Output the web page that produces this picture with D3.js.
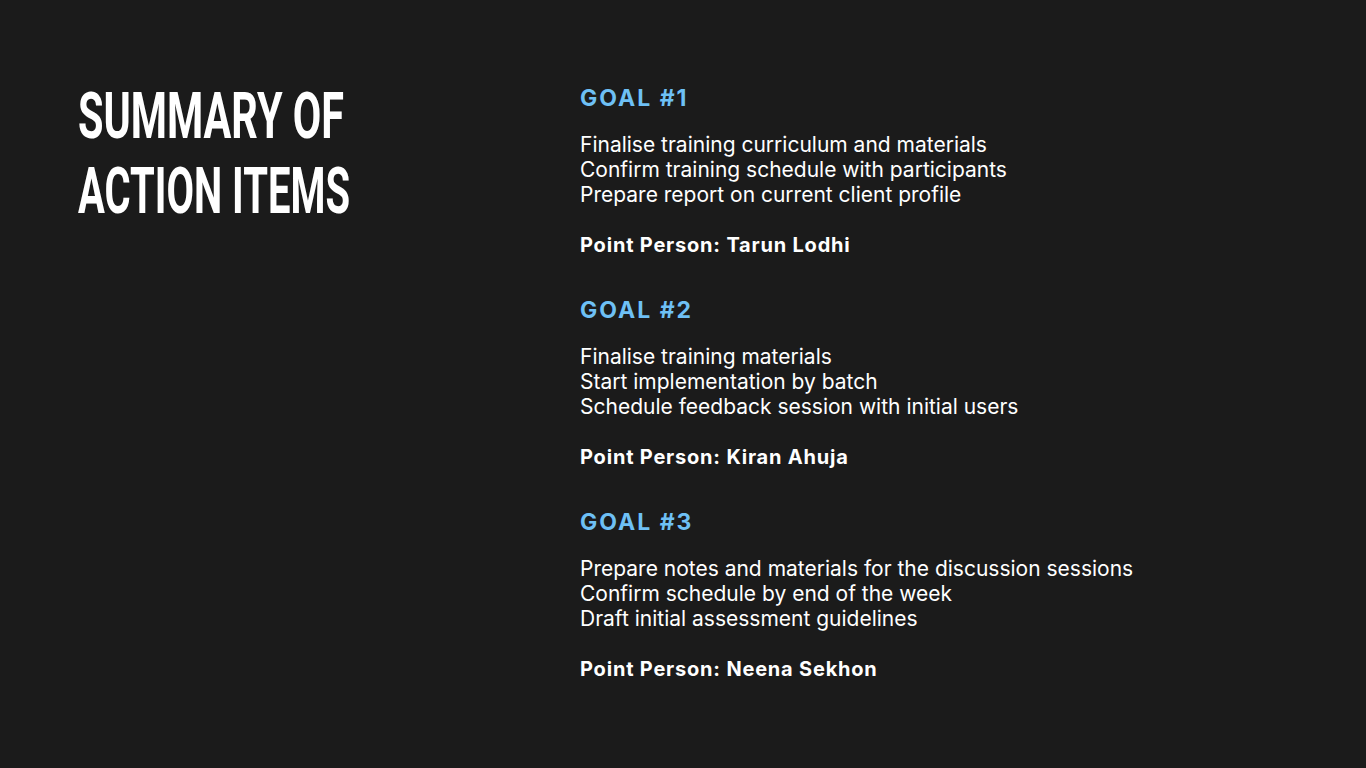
<!DOCTYPE html>
<html>
<head>
<meta charset="utf-8">
<script src="https://cdn.jsdelivr.net/npm/d3@7"></script>
<style>
  html, body { margin: 0; padding: 0; background: #1b1b1b; }
  svg { display: block; }
</style>
</head>
<body>
<svg id="chart" width="1366" height="768"></svg>
<script>
// slide content
var titleLines = ["SUMMARY OF", "ACTION ITEMS"];
var goalLabels = ["GOAL #1", "GOAL #2", "GOAL #3"];
var goalItems = [
  ["Finalise training curriculum and materials",
   "Confirm training schedule with participants",
   "Prepare report on current client profile"],
  ["Finalise training materials",
   "Start implementation by batch",
   "Schedule feedback session with initial users"],
  ["Prepare notes and materials for the discussion sessions",
   "Confirm schedule by end of the week",
   "Draft initial assessment guidelines"]
];
var pointPersons = ["Tarun Lodhi", "Kiran Ahuja", "Neena Sekhon"];

var svg = d3.select("#chart");
var W = 1366, H = 768;

svg.append("rect").attr("width", W).attr("height", H).attr("fill", "#1b1b1b");

// title, squeezed to look condensed
var titleWidths = [266, 272];
svg.selectAll(".title").data(titleLines)
  .enter()
  .append("text")
    .attr("class", "title")
    .attr("x", 78)
    .attr("y", (d, i) => 138 + i * 75)
    .attr("textLength", (d, i) => titleWidths[i])
    .attr("lengthAdjust", "spacingAndGlyphs")
    .text(d => d)
    .attr("fill", "white")
    .style("font-family", "Roboto, sans-serif")
    .style("font-weight", 700)
    .style("font-size", "64px");

// one block per goal
var y = d3.scaleLinear().domain([0, 1]).range([106, 318]);

goalLabels.forEach(function(g, i){
  var block = svg.append("g").attr("transform", "translate(580," + y(i) + ")");

  block.append("text")
    .text(g)
    .attr("fill", "#6ec0f5")
    .style("font-family", "Inter, sans-serif")
    .style("font-weight", 700)
    .style("font-size", "23px")
    .style("letter-spacing", "2px");

  block.selectAll(".item").data(goalItems[i])
    .enter()
    .append("text")
      .attr("class", "item")
      .attr("y", (d, j) => 46 + j * 25)
      .text(d => d)
      .attr("fill", "white")
      .style("font-family", "Inter, sans-serif")
      .style("font-size", "21px");

  block.append("text")
    .attr("y", 146)
    .text("Point Person: " + pointPersons[i])
    .attr("fill", "white")
    .style("font-family", "Inter, sans-serif")
    .style("font-weight", 700)
    .style("font-size", "20px")
    .style("letter-spacing", "0.8px");
});
</script>
</body>
</html>
